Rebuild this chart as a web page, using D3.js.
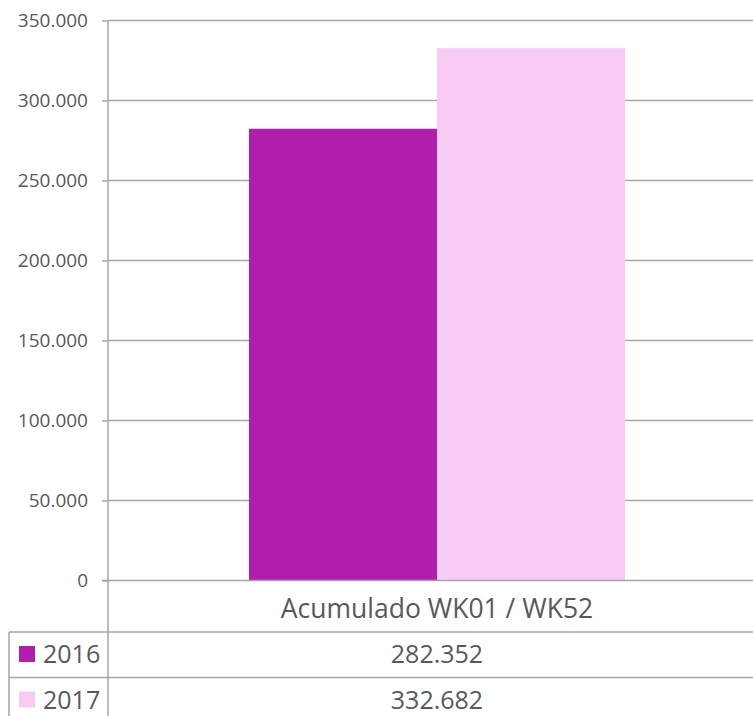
<!DOCTYPE html>
<html>
<head>
<meta charset="utf-8">
<script src="https://cdn.jsdelivr.net/npm/d3@7"></script>
<style>
  html, body { margin: 0; padding: 0; background: #fff; }
  svg { display: block; font-family: "Open Sans", sans-serif; }
</style>
</head>
<body>
<svg id="chart" width="753" height="716"></svg>
<script>
// ---- data ----
const categories = ["Acumulado WK01 / WK52"];
const series = ["2016", "2017"];
const values2016 = [282352];
const values2017 = [332682];
const yTicks = [0, 50000, 100000, 150000, 200000, 250000, 300000, 350000];
const colors = ["#b01fac", "#f7cbf4"];

const seriesValues = [values2016, values2017];

// ---- layout ----
const svg = d3.select("#chart");
const W = 753;
const plotLeft = 108, plotRight = 766, plotTop = 20.5, plotBottom = 580.5;
const tableLeft = 9, rowH = 45.5, headerH = 51.5;
const gridColor = "#a6a6a6";
const textColor = "#595959";

const loc = d3.formatLocale({ decimal: ",", thousands: ".", grouping: [3], currency: ["", ""] });
const fmt = loc.format(",");

const y = d3.scaleLinear().domain([0, 350000]).range([plotBottom, plotTop]);
const x0 = d3.scaleBand().domain(categories).range([plotLeft, plotRight]).padding(0);
const x1 = d3.scaleBand().domain(series).range([0, x0.bandwidth()]).paddingInner(0).paddingOuter(0.75);

// gridlines
svg.append("g")
  .selectAll("line").data(yTicks.filter(d => d > 0)).join("line")
  .attr("x1", plotLeft).attr("x2", W)
  .attr("y1", d => y(d)).attr("y2", d => y(d))
  .attr("stroke", gridColor).attr("stroke-width", 1.5);

// bars
const gCat = svg.append("g").selectAll("g").data(categories).join("g")
  .attr("transform", c => `translate(${x0(c)},0)`);
gCat.selectAll("rect")
  .data((c, ci) => series.map((s, si) => ({ s, si, v: seriesValues[si][ci] })))
  .join("rect")
  .attr("x", d => x1(d.s))
  .attr("width", x1.bandwidth())
  .attr("y", d => y(d.v))
  .attr("height", d => y(0) - y(d.v))
  .attr("fill", d => colors[d.si]);

// y axis
const yAxis = d3.axisLeft(y).tickValues(yTicks).tickFormat(fmt).tickSize(6).tickPadding(14);
const ga = svg.append("g").attr("transform", `translate(${plotLeft},0)`).call(yAxis);
ga.select(".domain").remove();
ga.selectAll(".tick line").attr("stroke", gridColor).attr("stroke-width", 1.5);
ga.selectAll(".tick text").attr("fill", textColor).attr("font-size", 19)
  .attr("font-family", "'Open Sans', sans-serif");

// axis baseline (zero line)
svg.append("line").attr("x1", plotLeft - 6).attr("x2", W)
  .attr("y1", y(0)).attr("y2", y(0)).attr("stroke", gridColor).attr("stroke-width", 1.5);

// vertical axis line spanning plot + table
svg.append("line").attr("x1", plotLeft).attr("x2", plotLeft)
  .attr("y1", plotTop).attr("y2", 716).attr("stroke", gridColor).attr("stroke-width", 1.5);

// data table
const tableTop = plotBottom + headerH;
const rowsY = series.map((s, i) => tableTop + i * rowH);
svg.append("g").selectAll("line").data(rowsY).join("line")
  .attr("x1", tableLeft).attr("x2", W)
  .attr("y1", d => d).attr("y2", d => d)
  .attr("stroke", gridColor).attr("stroke-width", 1.5);
svg.append("line").attr("x1", tableLeft).attr("x2", tableLeft)
  .attr("y1", tableTop).attr("y2", 716).attr("stroke", gridColor).attr("stroke-width", 1.5);

// category labels
svg.append("g").selectAll("text").data(categories).join("text")
  .attr("x", c => x0(c) + x0.bandwidth() / 2)
  .attr("y", plotBottom + 37)
  .attr("text-anchor", "middle")
  .attr("fill", textColor).attr("font-size", 26.5)
  .text(c => c);

// legend keys + values
series.forEach((s, si) => {
  const rowTop = rowsY[si];
  svg.append("rect").attr("x", 19).attr("y", rowTop + 14).attr("width", 16).attr("height", 16)
    .attr("fill", colors[si]);
  svg.append("text").attr("x", 43).attr("y", rowTop + 31)
    .attr("fill", textColor).attr("font-size", 25).text(s);
  categories.forEach((c, ci) => {
    svg.append("text")
      .attr("x", x0(c) + x0.bandwidth() / 2)
      .attr("y", rowTop + 31)
      .attr("text-anchor", "middle")
      .attr("fill", textColor).attr("font-size", 25)
      .text(fmt(seriesValues[si][ci]));
  });
});
</script>
</body>
</html>
